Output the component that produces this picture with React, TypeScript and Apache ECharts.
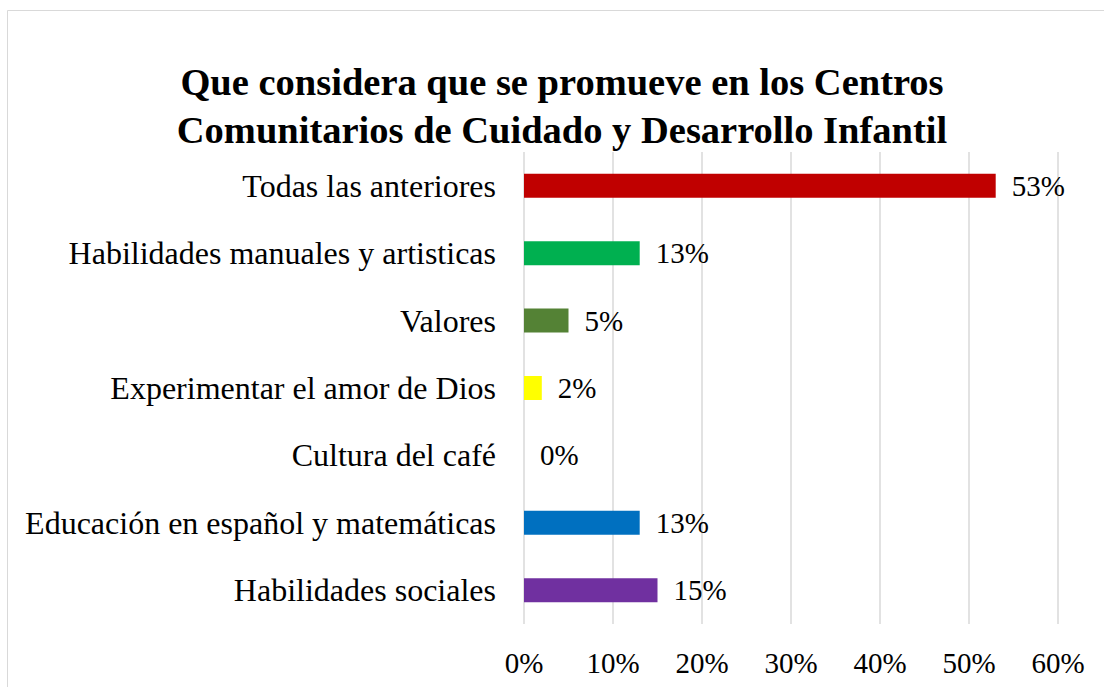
import React, { useEffect, useRef } from "react";
import * as echarts from "echarts";

const titleLines = [
  "Que considera que se promueve en los Centros",
  "Comunitarios de Cuidado y Desarrollo Infantil",
];
// bottom to top
const categories = [
  "Habilidades sociales",
  "Educación en español y matemáticas",
  "Cultura del café",
  "Experimentar el amor de Dios",
  "Valores",
  "Habilidades manuales y artisticas",
  "Todas las anteriores",
];
const values = [15, 13, 0, 2, 5, 13, 53];
const colors = ["#7030A0", "#0070C0", "#FFC000", "#FFFF00", "#548235", "#00B050", "#C00000"];
const xTicks = [0, 10, 20, 30, 40, 50, 60];

const FONT = "'Liberation Serif', 'Times New Roman', serif";

export default function App() {
  const ref = useRef<HTMLDivElement>(null);
  useEffect(() => {
    if (!ref.current) return;
    const chart = echarts.init(ref.current, undefined, { renderer: "svg" });
    chart.setOption({
      animation: false,
      backgroundColor: "#ffffff",
      title: {
        text: titleLines.join("\n"),
        left: 557,
        textAlign: "center",
        top: 53,
        textStyle: {
          fontFamily: FONT,
          fontWeight: "bold",
          fontSize: 38.5,
          lineHeight: 48,
          color: "#000000",
        },
      },
      graphic: [
        {
          type: "rect",
          shape: { x: 7.5, y: 10.5, width: 1200, height: 800 },
          style: { fill: "none", stroke: "#D9D9D9", lineWidth: 1 },
          silent: true,
        },
      ],
      grid: { left: 524, right: 46, top: 152, bottom: 63, containLabel: false },
      xAxis: {
        type: "value",
        min: xTicks[0],
        max: xTicks[xTicks.length - 1],
        interval: 10,
        axisLine: { show: false },
        axisTick: { show: false },
        splitLine: { show: true, lineStyle: { color: "#D9D9D9", width: 1.5 } },
        axisLabel: {
          fontFamily: FONT,
          fontSize: 29,
          color: "#000000",
          margin: 24,
          formatter: (v: number) => `${v}%`,
        },
      },
      yAxis: {
        type: "category",
        data: categories,
        axisLine: { show: false },
        axisTick: { show: false },
        axisLabel: {
          fontFamily: FONT,
          fontSize: 32,
          color: "#000000",
          margin: 28,
        },
      },
      series: [
        {
          type: "bar",
          barWidth: 24,
          data: values.map((v, i) => ({ value: v, itemStyle: { color: colors[i] } })),
          label: {
            show: true,
            position: "right",
            distance: 16,
            fontFamily: FONT,
            fontSize: 29,
            color: "#000000",
            formatter: (p: any) => `${p.value}%`,
          },
        },
      ],
    });
    return () => chart.dispose();
  }, []);
  return (
    <div
      ref={ref}
      style={{ position: "fixed", left: 0, top: 0, width: 1104, height: 687 }}
    />
  );
}
